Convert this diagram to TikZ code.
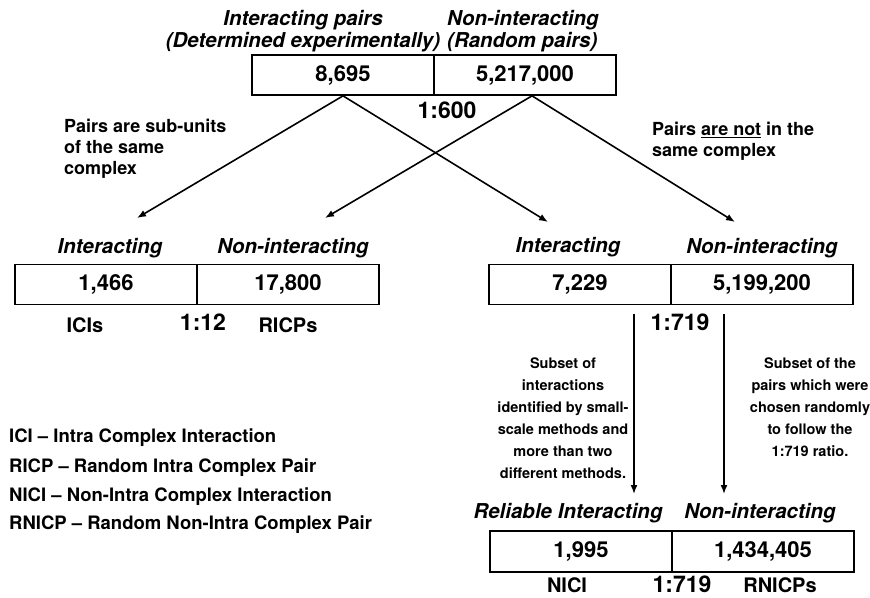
\documentclass[tikz,border=0pt]{standalone}
\usepackage{fontspec}
\setmainfont{TeX Gyre Heros}
\usepackage{tikz}
\usetikzlibrary{arrows.meta, positioning}
\tikzset{
	cell/.style={draw, line width=1.7pt, minimum width=182pt, minimum height=40pt, inner sep=0pt, font=\fontsize{22}{24}\selectfont\bfseries},
	head/.style={font=\fontsize{20.5}{22}\selectfont\bfseries\itshape, inner sep=0pt},
	ratio/.style={font=\fontsize{23}{26}\selectfont\bfseries, inner sep=0pt},
	tag/.style={font=\fontsize{20}{24}\selectfont\bfseries, inner sep=0pt},
	note/.style={font=\fontsize{18}{21}\selectfont\bfseries, align=left, inner sep=0pt},
	small/.style={font=\fontsize{14.5}{22}\selectfont\bfseries, align=center, inner sep=0pt},
	legend/.style={font=\fontsize{18.5}{21}\selectfont\bfseries, anchor=west, inner sep=0pt},
	link/.style={draw, line width=1.6pt, -{Latex[length=9pt,width=7pt]}}
}

\begin{document}
\begin{tikzpicture}[x=1pt,y=-1pt]
	\useasboundingbox (0,0) rectangle (870,597);
	% Top box
	\node[head, align=center] (h-exp) at (303,31) {Interacting pairs\\(Determined experimentally)};
	\node[head, align=left, anchor=west] (h-rand) at (447,31) {Non-interacting\\(Random pairs)};
	\node[cell] (top-int) at (343,75) {8,695};
	\node[cell, right=-1.7pt of top-int] (top-non) {5,217,000};
	\node[ratio] (r-top) at (447,110) {1:600};
	
	% Split labels
	\node[note, anchor=west] (same) at (64,149) {Pairs are sub-units\\of the same\\complex};
	\node[note, anchor=west] (notsame) at (652,141) {Pairs \underline{are not} in the\\same complex};
	
	% Left box (intra complex)
	\node[head] (h-ici) at (110,248) {Interacting};
	\node[head] (h-ricp) at (293,248) {Non-interacting};
	\node[cell] (ici) at (106,284.5) {1,466};
	\node[cell, right=-1.7pt of ici] (ricp) {17,800};
	\node[tag] (t-ici) at (85,325) {ICIs};
	\node[ratio] (r-ici) at (203,322) {1:12};
	\node[tag] (t-ricp) at (288,325) {RICPs};
	
	% Right box (non-intra complex)
	\node[head] (h-nici) at (568,247) {Interacting};
	\node[head] (h-rnicp) at (762,248) {Non-interacting};
	\node[cell] (nici) at (580,284.5) {7,229};
	\node[cell, right=-1.7pt of nici] (rnicp) {5,199,200};
	\node[ratio] (r-nici) at (680,322) {1:719};
	
	% Subset notes
	\node[small] (sub-int) at (563,418) {Subset of\\interactions\\identified by small-\\scale methods and\\more than two\\different methods.};
	\node[small] (sub-non) at (810,407) {Subset of the\\pairs which were\\chosen randomly\\to follow the\\1:719 ratio.};
	
	% Bottom box (reliable)
	\node[head] (h-rel) at (568,513) {Reliable Interacting};
	\node[head] (h-rnon) at (760,513) {Non-interacting};
	\node[cell, minimum height=41pt] (rel) at (581,551.5) {1,995};
	\node[cell, minimum height=41pt, right=-1.7pt of rel] (rnon) {1,434,405};
	\node[tag] (t-rel) at (567,585) {NICI};
	\node[ratio] (r-rel) at (682,584) {1:719};
	\node[tag] (t-rnon) at (780,585) {RNICPs};
	
	% Legend
	\node[legend] (l-1) at (9,438) {ICI -- Intra Complex Interaction};
	\node[legend] (l-2) at (9,468) {RICP -- Random Intra Complex Pair};
	\node[legend] (l-3) at (9,497) {NICI -- Non-Intra Complex Interaction};
	\node[legend] (l-4) at (9,525) {RNICP -- Random Non-Intra Complex Pair};
	
	% Arrow ends
	\coordinate (to-ici) at (137,218);
	\coordinate (to-ricp) at (325,218);
	\coordinate (to-nici) at (548,222);
	\coordinate (to-rnicp) at (735,222);
	\coordinate (from-int) at (634,314);
	\coordinate (to-rel) at (634,494);
	\coordinate (from-non) at (724,314);
	\coordinate (to-rnon) at (724,494);
	
	% Connections
	\draw[link] (top-int.south) -- (to-ici);
	\draw[link] (top-int.south) -- (to-nici);
	\draw[link] ([xshift=7pt]top-non.south) -- (to-ricp);
	\draw[link] ([xshift=7pt]top-non.south) -- (to-rnicp);
	\draw[link] (from-int) -- (to-rel);
	\draw[link] (from-non) -- (to-rnon);
\end{tikzpicture}
\end{document}
